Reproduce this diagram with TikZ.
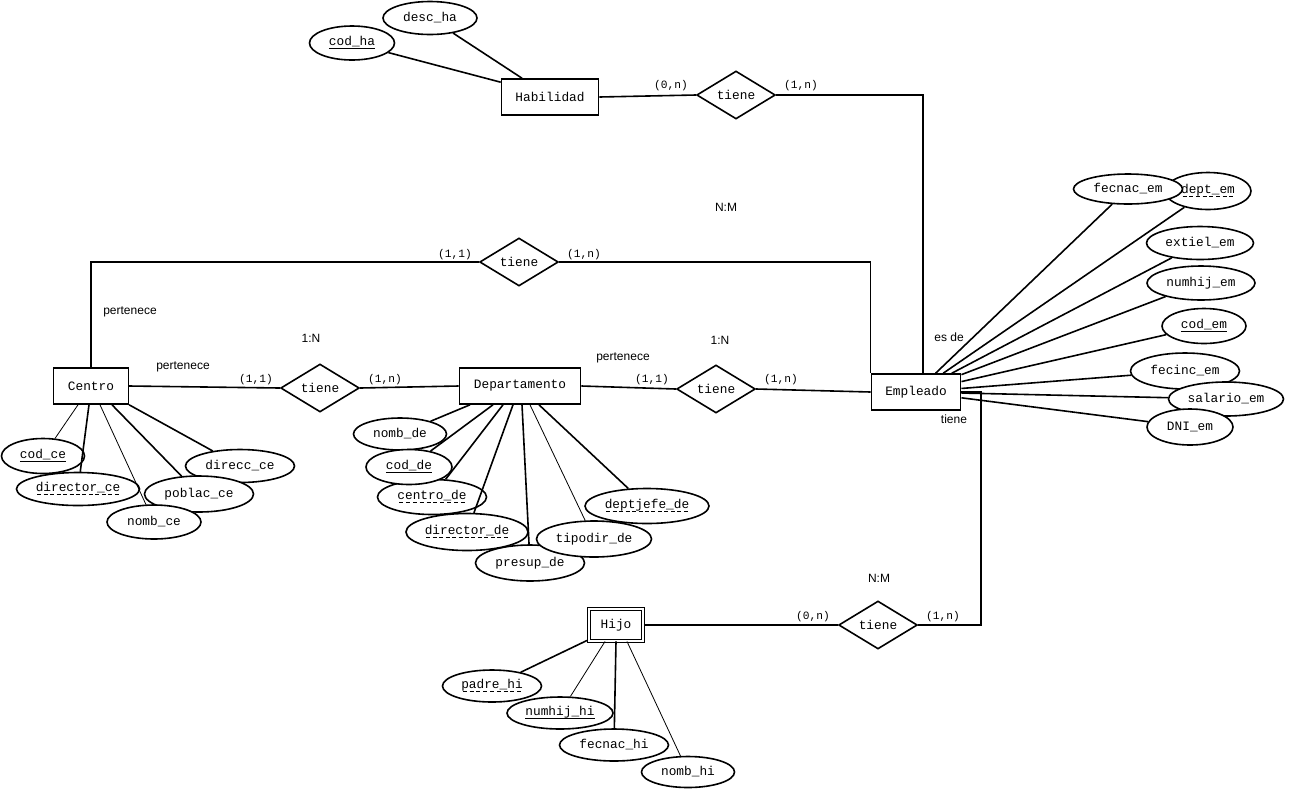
\documentclass[tikz,border=0pt]{standalone}
\usepackage{fontspec}
\usetikzlibrary{shapes.geometric}
\newfontfamily\ermono{Liberation Mono}
\newfontfamily\ersans{Liberation Sans}
\newcommand{\ertxt}{\ermono\fontsize{9.6}{11}\selectfont}
\newcommand{\cardtxt}{\ermono\fontsize{8.4}{10}\selectfont}
\newcommand{\notetxt}{\ersans\fontsize{9}{11}\selectfont}
% clave primaria (subrayado) y clave ajena (subrayado a trazos)
\newcommand{\pk}[1]{\setbox0=\hbox{#1}\leavevmode\rlap{\rule[-2.6pt]{\wd0}{0.8pt}}\box0}
\newcommand{\fk}[1]{\setbox0=\hbox{#1}\leavevmode\rlap{\hbox to\wd0{\xleaders\hbox to 4.8pt{\hss\rule[-2.6pt]{3pt}{0.8pt}\hss}\hfill}}\box0}
\tikzset{
  entity/.style={draw, line width=1.2pt, fill=white, minimum height=27pt, inner sep=2pt, font=\ertxt},
  weakentity/.style={entity, double, double distance=1.6pt, line width=0.9pt, minimum width=40.8pt, minimum height=23.8pt},
  relation/.style={draw, diamond, line width=1.2pt, fill=white, minimum width=59pt, minimum height=36pt, inner sep=0pt, font=\ertxt},
  attrib/.style 2 args={draw, ellipse, line width=1.2pt, fill=white, inner sep=0pt, font=\ertxt, minimum width=#1*0.75pt, minimum height=#2*0.75pt},
  card/.style={font=\cardtxt, inner sep=0pt},
  note/.style={font=\notetxt, inner sep=0pt},
  conn/.style={line width=1.2pt},
  thinconn/.style={line width=0.6pt}
}

\begin{document}
\begin{tikzpicture}[x=0.75pt, y=-0.75pt]
\fill[white] (0,0) rectangle (1289,790);
\useasboundingbox (0,0) rectangle (1289,790);

% entidades
\node[entity, minimum width=72.75pt] (hab) at (550,97) {Habilidad};
\node[entity, minimum width=56pt] (cen) at (91,386) {Centro};
\node[entity, minimum width=91pt] (dep) at (520,386) {Departamento};
\node[entity, minimum width=67pt] (emp) at (916,392) {Empleado};
\node[weakentity] (hijo) at (616,625) {Hijo};

% relaciones
\node[relation] (rhab) at (736,95) {tiene};
\node[relation] (rcen) at (519,262) {tiene};
\node[relation] (rcd) at (320,388) {tiene};
\node[relation] (rde) at (716,389) {tiene};
\node[relation] (rhijo) at (878,625) {tiene};

% atributos Habilidad
\node[attrib={85}{34}] (codha) at (352,43) {\pk{cod\_ha}};
\node[attrib={94}{33}] (descha) at (430,18) {desc\_ha};

% atributos Empleado
\node[attrib={86}{37}] (deptem) at (1208,191) {\fk{dept\_em}};
\node[attrib={109}{30}] (fecnacem) at (1128,189) {fecnac\_em};
\node[attrib={107}{33}] (extielem) at (1200,243) {extiel\_em};
\node[attrib={108}{34}] (numhijem) at (1201,283) {numhij\_em};
\node[attrib={84}{35}] (codem) at (1204,326) {\pk{cod\_em}};
\node[attrib={109}{36}] (fecincem) at (1185,371) {fecinc\_em};
\node[attrib={115}{34}] (salarioem) at (1226,399) {salario\_em};
\node[attrib={86}{36}] (dniem) at (1190,427) {DNI\_em};

% atributos Centro
\node[attrib={83}{35}] (codce) at (43,456) {\pk{cod\_ce}};
\node[attrib={123}{33}] (directorce) at (78,489) {\fk{director\_ce}};
\node[attrib={109}{33}] (direccce) at (240,466) {direcc\_ce};
\node[attrib={109}{36}] (poblacce) at (199,494) {poblac\_ce};
\node[attrib={94}{34}] (nombce) at (154,522) {nomb\_ce};

% atributos Departamento
\node[attrib={93}{32}] (nombde) at (400,434) {nomb\_de};
\node[attrib={109}{35}] (centrode) at (432,497) {\fk{centro\_de}};
\node[attrib={86}{35}] (codde) at (409,467) {\pk{cod\_de}};
\node[attrib={109}{36}] (presupde) at (530,563) {presup\_de};
\node[attrib={122}{37}] (directorde) at (467,532) {\fk{director\_de}};
\node[attrib={115}{36}] (tipodirde) at (594,539) {tipodir\_de};
\node[attrib={124}{35}] (deptjefede) at (647,506) {\fk{deptjefe\_de}};

% atributos Hijo
\node[attrib={99}{32}] (padrehi) at (492,686) {\fk{padre\_hi}};
\node[attrib={109}{32}] (fecnachi) at (614,745) {fecnac\_hi};
\node[attrib={106}{32}] (numhijhi) at (560,713) {\pk{numhij\_hi}};
\node[attrib={93}{31}] (nombhi) at (688,772) {nomb\_hi};

% relaciones entre entidades
\draw[conn] (hab.east) -- (rhab.west);
\draw[conn] (rhab.east) -| ([xshift=5.25pt]emp.north);
\draw[conn] (rcen.west) -| (cen.north);
\draw[conn] (rcen.east) -| (emp.north west);
\draw[conn] (cen.east) -- (rcd.west);
\draw[conn] (rcd.east) -- (dep.west);
\draw[conn] (dep.east) -- (rde.west);
\draw[conn] (rde.east) -- (emp.west);
\draw[conn] (hijo.east) -- (rhijo.west);
\coordinate (cnr) at (981,392);
\draw[conn] (rhijo.east) -| (cnr) -- (emp.east);

% lineas de atributos
\draw[conn] ([shift={(0,4)}]hab.north west) -- (codha);
\draw[conn] ([shift={(-28,0)}]hab.north) -- (descha);
\foreach \a in {fecnacem,deptem,extielem,numhijem,codem,fecincem,salarioem,dniem}
  \draw[conn] (emp) -- (\a);
\draw[thinconn] ([shift={(-13,0)}]cen.south) -- (codce);
\draw[conn] ([shift={(-2,0)}]cen.south) -- (directorce);
\draw[thinconn] ([shift={(9,0)}]cen.south) -- (nombce);
\draw[conn] ([shift={(21,0)}]cen.south) -- (poblacce);
\draw[conn] (cen.south east) -- (direccce);
\draw[conn] ([shift={(-50,0)}]dep.south) -- (nombde);
\draw[conn] ([shift={(-27,0)}]dep.south) -- (codde);
\draw[conn] ([shift={(-17,0)}]dep.south) -- (centrode);
\draw[conn] ([shift={(-7,0)}]dep.south) -- (directorde);
\draw[conn] ([shift={(2,0)}]dep.south) -- (presupde);
\draw[thinconn] ([shift={(10,0)}]dep.south) -- (tipodirde);
\draw[conn] ([shift={(19,0)}]dep.south) -- (deptjefede);
\draw[conn] ([shift={(-29,-1)}]hijo.south) -- (padrehi);
\draw[thinconn] ([shift={(-11,0)}]hijo.south) -- (numhijhi);
\draw[conn] (hijo.south) -- (fecnachi);
\draw[thinconn] ([shift={(11,0)}]hijo.south) -- (nombhi);

% cardinalidades
\node[card] at (671,86) {(0,n)};
\node[card] at (801,86) {(1,n)};
\node[card] at (455,255) {(1,1)};
\node[card] at (584,255) {(1,n)};
\node[card] at (256,380) {(1,1)};
\node[card] at (385,380) {(1,n)};
\node[card] at (652,380) {(1,1)};
\node[card] at (781,380) {(1,n)};
\node[card] at (813,617) {(0,n)};
\node[card] at (943,617) {(1,n)};

% textos
\node[note] at (726,207) {N:M};
\node[note] at (130,312) {pertenece};
\node[note] at (311,338) {1:N};
\node[note] at (183,367) {pertenece};
\node[note] at (623,358) {pertenece};
\node[note] at (720,340) {1:N};
\node[note] at (949,337) {es de};
\node[note] at (954,419) {tiene};
\node[note] at (879,578) {N:M};
\end{tikzpicture}
\end{document}
